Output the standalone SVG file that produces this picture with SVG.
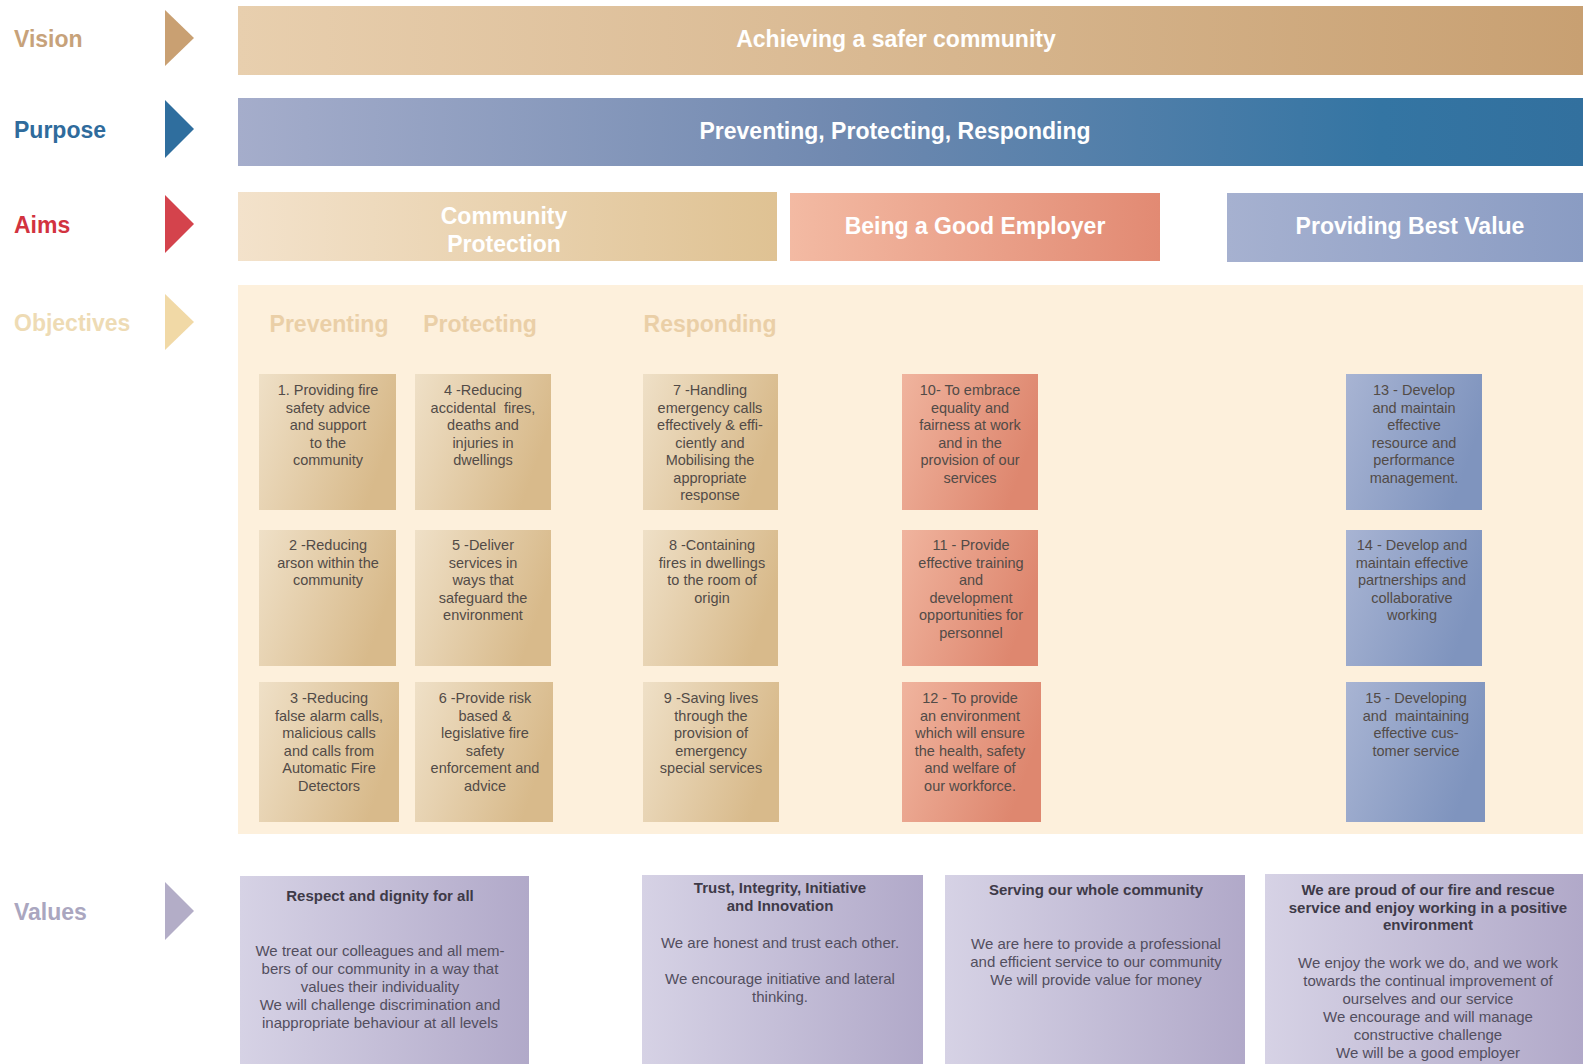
<svg xmlns="http://www.w3.org/2000/svg" width="1583" height="1064" viewBox="0 0 1583 1064">
  <defs>
    <linearGradient id="gVision" x1="0" y1="0" x2="1" y2="0">
      <stop offset="0" stop-color="#e8cfae"/>
      <stop offset="1" stop-color="#c8a072"/>
    </linearGradient>
    <linearGradient id="gPurpose" x1="0" y1="0" x2="1" y2="0">
      <stop offset="0" stop-color="#a5adcb"/>
      <stop offset="0.45" stop-color="#7089b0"/>
      <stop offset="0.85" stop-color="#3475a3"/>
      <stop offset="1" stop-color="#32709e"/>
    </linearGradient>
    <linearGradient id="gCommunity" x1="0" y1="0" x2="1" y2="0">
      <stop offset="0" stop-color="#f3e2cb"/>
      <stop offset="1" stop-color="#dfc293"/>
    </linearGradient>
    <linearGradient id="gEmployer" x1="0" y1="0" x2="1" y2="0">
      <stop offset="0" stop-color="#f3baa3"/>
      <stop offset="1" stop-color="#e28a73"/>
    </linearGradient>
    <linearGradient id="gValue" x1="0" y1="0" x2="1" y2="0">
      <stop offset="0" stop-color="#a6b1d0"/>
      <stop offset="1" stop-color="#8a9cc3"/>
    </linearGradient>
    <linearGradient id="gTan" x1="0" y1="0" x2="1" y2="0.35">
      <stop offset="0" stop-color="#efe0c7"/>
      <stop offset="1" stop-color="#d8ba8b"/>
    </linearGradient>
    <linearGradient id="gCoral" x1="0" y1="0" x2="1" y2="0.35">
      <stop offset="0" stop-color="#f0b49e"/>
      <stop offset="1" stop-color="#de876f"/>
    </linearGradient>
    <linearGradient id="gBlue" x1="0" y1="0" x2="1" y2="0.35">
      <stop offset="0" stop-color="#a8b4d3"/>
      <stop offset="1" stop-color="#7f94be"/>
    </linearGradient>
    <linearGradient id="gLav" x1="0" y1="0" x2="1" y2="0">
      <stop offset="0" stop-color="#d6d2e5"/>
      <stop offset="1" stop-color="#b1a9c9"/>
    </linearGradient>
    <style>
      .lbl { font-family: "Liberation Sans", Arial, sans-serif; font-weight: bold; font-size: 23px; }
      .bar { font-family: "Liberation Sans", Arial, sans-serif; font-weight: bold; font-size: 23px; fill: #ffffff; text-anchor: middle; }
      .col { font-family: "Liberation Sans", Arial, sans-serif; font-weight: bold; font-size: 23px; fill: #eacfa7; text-anchor: middle; }
      .obj { font-family: "Liberation Sans", Arial, sans-serif; font-size: 14.5px; fill: #524b47; text-anchor: middle; }
      .vt { font-family: "Liberation Sans", Arial, sans-serif; font-weight: bold; font-size: 15px; fill: #3e3a48; text-anchor: middle; }
      .vb { font-family: "Liberation Sans", Arial, sans-serif; font-size: 15px; fill: #524e5e; text-anchor: middle; }
    </style>
  </defs>

  <rect width="1583" height="1064" fill="#ffffff"/>

  <!-- row labels -->
  <g id="labels">
    <text class="lbl" x="14" y="47" fill="#c7a27a">Vision</text>
    <text class="lbl" x="14" y="138" fill="#2f6b9c">Purpose</text>
    <text class="lbl" x="14" y="233" fill="#d2333f">Aims</text>
    <text class="lbl" x="14" y="331" fill="#eedbb4">Objectives</text>
    <text class="lbl" x="14" y="920" fill="#aaa6bf">Values</text>
  </g>

  <!-- pointers between labels and rows -->
  <g id="arrows">
    <polygon points="165,10 194,38 165,66" fill="#c9a072"/>
    <polygon points="165,100 194,129 165,158" fill="#2f6e9e"/>
    <polygon points="165,195 194,224 165,253" fill="#d4434c"/>
    <polygon points="165,294 194,322 165,350" fill="#f1d9a6"/>
    <polygon points="165,882 194,911 165,940" fill="#b3adc7"/>
  </g>

  <g id="vision">
    <rect x="238" y="6" width="1345" height="69" fill="url(#gVision)"/>
    <text class="bar" x="896" y="47">Achieving a safer community</text>
  </g>

  <g id="purpose">
    <rect x="238" y="98" width="1345" height="68" fill="url(#gPurpose)"/>
    <text class="bar" x="895" y="139">Preventing, Protecting, Responding</text>
  </g>

  <g id="aim-community">
    <rect x="238" y="192" width="539" height="69" fill="url(#gCommunity)"/>
    <text class="bar" x="504" y="224">Community</text>
    <text class="bar" x="504" y="252">Protection</text>
  </g>
  <g id="aim-employer">
    <rect x="790" y="193" width="370" height="68" fill="url(#gEmployer)"/>
    <text class="bar" x="975" y="234">Being a Good Employer</text>
  </g>
  <g id="aim-value">
    <rect x="1227" y="193" width="356" height="69" fill="url(#gValue)"/>
    <text class="bar" x="1410" y="234">Providing Best Value</text>
  </g>

  <!-- objectives panel -->
  <g id="objectives">
    <rect x="238" y="285" width="1345" height="549" fill="#fdf0dc"/>
    <text class="col" x="329" y="332">Preventing</text>
    <text class="col" x="480" y="332">Protecting</text>
    <text class="col" x="710" y="332">Responding</text>
  </g>

  <g id="obj-1">
    <rect x="259" y="374" width="137" height="136" fill="url(#gTan)"/>
    <text class="obj" x="328" y="395">1. Providing fire<tspan x="328" dy="17.5">safety advice</tspan><tspan x="328" dy="17.5">and support</tspan><tspan x="328" dy="17.5">to the</tspan><tspan x="328" dy="17.5">community</tspan></text>
  </g>
  <g id="obj-2">
    <rect x="259" y="530" width="137" height="136" fill="url(#gTan)"/>
    <text class="obj" x="328" y="550">2 -Reducing<tspan x="328" dy="17.5">arson within the</tspan><tspan x="328" dy="17.5">community</tspan></text>
  </g>
  <g id="obj-3">
    <rect x="259" y="682" width="140" height="140" fill="url(#gTan)"/>
    <text class="obj" x="329" y="703">3 -Reducing<tspan x="329" dy="17.5">false alarm calls,</tspan><tspan x="329" dy="17.5">malicious calls</tspan><tspan x="329" dy="17.5">and calls from</tspan><tspan x="329" dy="17.5">Automatic Fire</tspan><tspan x="329" dy="17.5">Detectors</tspan></text>
  </g>

  <g id="obj-4">
    <rect x="415" y="374" width="136" height="136" fill="url(#gTan)"/>
    <text class="obj" x="483" y="395">4 -Reducing<tspan x="483" dy="17.5">accidental&#160; fires,</tspan><tspan x="483" dy="17.5">deaths and</tspan><tspan x="483" dy="17.5">injuries in</tspan><tspan x="483" dy="17.5">dwellings</tspan></text>
  </g>
  <g id="obj-5">
    <rect x="415" y="530" width="136" height="136" fill="url(#gTan)"/>
    <text class="obj" x="483" y="550">5 -Deliver<tspan x="483" dy="17.5">services in</tspan><tspan x="483" dy="17.5">ways that</tspan><tspan x="483" dy="17.5">safeguard the</tspan><tspan x="483" dy="17.5">environment</tspan></text>
  </g>
  <g id="obj-6">
    <rect x="415" y="682" width="138" height="140" fill="url(#gTan)"/>
    <text class="obj" x="485" y="703">6 -Provide risk<tspan x="485" dy="17.5">based &amp;</tspan><tspan x="485" dy="17.5">legislative fire</tspan><tspan x="485" dy="17.5">safety</tspan><tspan x="485" dy="17.5">enforcement and</tspan><tspan x="485" dy="17.5">advice</tspan></text>
  </g>

  <g id="obj-7">
    <rect x="643" y="374" width="135" height="136" fill="url(#gTan)"/>
    <text class="obj" x="710" y="395">7 -Handling<tspan x="710" dy="17.5">emergency calls</tspan><tspan x="710" dy="17.5">effectively &amp; effi-</tspan><tspan x="710" dy="17.5">ciently and</tspan><tspan x="710" dy="17.5">Mobilising the</tspan><tspan x="710" dy="17.5">appropriate</tspan><tspan x="710" dy="17.5">response</tspan></text>
  </g>
  <g id="obj-8">
    <rect x="643" y="530" width="135" height="136" fill="url(#gTan)"/>
    <text class="obj" x="712" y="550">8 -Containing<tspan x="712" dy="17.5">fires in dwellings</tspan><tspan x="712" dy="17.5">to the room of</tspan><tspan x="712" dy="17.5">origin</tspan></text>
  </g>
  <g id="obj-9">
    <rect x="643" y="682" width="136" height="140" fill="url(#gTan)"/>
    <text class="obj" x="711" y="703">9 -Saving lives<tspan x="711" dy="17.5">through the</tspan><tspan x="711" dy="17.5">provision of</tspan><tspan x="711" dy="17.5">emergency</tspan><tspan x="711" dy="17.5">special services</tspan></text>
  </g>

  <g id="obj-10">
    <rect x="902" y="374" width="136" height="136" fill="url(#gCoral)"/>
    <text class="obj" x="970" y="395">10- To embrace<tspan x="970" dy="17.5">equality and</tspan><tspan x="970" dy="17.5">fairness at work</tspan><tspan x="970" dy="17.5">and in the</tspan><tspan x="970" dy="17.5">provision of our</tspan><tspan x="970" dy="17.5">services</tspan></text>
  </g>
  <g id="obj-11">
    <rect x="902" y="530" width="136" height="136" fill="url(#gCoral)"/>
    <text class="obj" x="971" y="550">11 - Provide<tspan x="971" dy="17.5">effective training</tspan><tspan x="971" dy="17.5">and</tspan><tspan x="971" dy="17.5">development</tspan><tspan x="971" dy="17.5">opportunities for</tspan><tspan x="971" dy="17.5">personnel</tspan></text>
  </g>
  <g id="obj-12">
    <rect x="902" y="682" width="139" height="140" fill="url(#gCoral)"/>
    <text class="obj" x="970" y="703">12 - To provide<tspan x="970" dy="17.5">an environment</tspan><tspan x="970" dy="17.5">which will ensure</tspan><tspan x="970" dy="17.5">the health, safety</tspan><tspan x="970" dy="17.5">and welfare of</tspan><tspan x="970" dy="17.5">our workforce.</tspan></text>
  </g>

  <g id="obj-13">
    <rect x="1346" y="374" width="136" height="136" fill="url(#gBlue)"/>
    <text class="obj" x="1414" y="395">13 - Develop<tspan x="1414" dy="17.5">and maintain</tspan><tspan x="1414" dy="17.5">effective</tspan><tspan x="1414" dy="17.5">resource and</tspan><tspan x="1414" dy="17.5">performance</tspan><tspan x="1414" dy="17.5">management.</tspan></text>
  </g>
  <g id="obj-14">
    <rect x="1346" y="530" width="136" height="136" fill="url(#gBlue)"/>
    <text class="obj" x="1412" y="550">14 - Develop and<tspan x="1412" dy="17.5">maintain effective</tspan><tspan x="1412" dy="17.5">partnerships and</tspan><tspan x="1412" dy="17.5">collaborative</tspan><tspan x="1412" dy="17.5">working</tspan></text>
  </g>
  <g id="obj-15">
    <rect x="1346" y="682" width="139" height="140" fill="url(#gBlue)"/>
    <text class="obj" x="1416" y="703">15 - Developing<tspan x="1416" dy="17.5">and&#160; maintaining</tspan><tspan x="1416" dy="17.5">effective cus-</tspan><tspan x="1416" dy="17.5">tomer service</tspan></text>
  </g>

  <!-- values -->
  <g id="value-respect">
    <rect x="240" y="876" width="289" height="188" fill="url(#gLav)"/>
    <text class="vt" x="380" y="901">Respect and dignity for all</text>
    <text class="vb" x="380" y="956">We treat our colleagues and all mem-<tspan x="380" dy="18">bers of our community in a way that</tspan><tspan x="380" dy="18">values their individuality</tspan><tspan x="380" dy="18">We will challenge discrimination and</tspan><tspan x="380" dy="18">inappropriate behaviour at all levels</tspan></text>
  </g>
  <g id="value-trust">
    <rect x="642" y="875" width="281" height="189" fill="url(#gLav)"/>
    <text class="vt" x="780" y="893">Trust, Integrity, Initiative<tspan x="780" dy="18">and Innovation</tspan></text>
    <text class="vb" x="780" y="948">We are honest and trust each other.<tspan x="780" dy="36">We encourage initiative and lateral</tspan><tspan x="780" dy="18">thinking.</tspan></text>
  </g>
  <g id="value-serving">
    <rect x="945" y="875" width="300" height="189" fill="url(#gLav)"/>
    <text class="vt" x="1096" y="895">Serving our whole community</text>
    <text class="vb" x="1096" y="949">We are here to provide a professional<tspan x="1096" dy="18">and efficient service to our community</tspan><tspan x="1096" dy="18">We will provide value for money</tspan></text>
  </g>
  <g id="value-proud">
    <rect x="1265" y="874" width="318" height="190" fill="url(#gLav)"/>
    <text class="vt" x="1428" y="895">We are proud of our fire and rescue<tspan x="1428" dy="17.5">service and enjoy working in a positive</tspan><tspan x="1428" dy="17.5">environment</tspan></text>
    <text class="vb" x="1428" y="968">We enjoy the work we do, and we work<tspan x="1428" dy="18">towards the continual improvement of</tspan><tspan x="1428" dy="18">ourselves and our service</tspan><tspan x="1428" dy="18">We encourage and will manage</tspan><tspan x="1428" dy="18">constructive challenge</tspan><tspan x="1428" dy="18">We will be a good employer</tspan></text>
  </g>
</svg>
